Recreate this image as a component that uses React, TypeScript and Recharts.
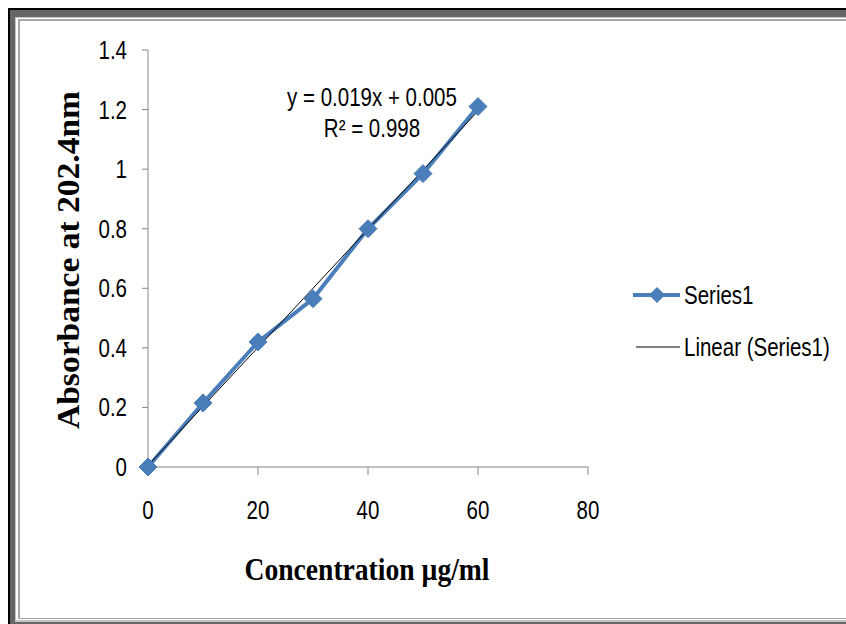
import React from "react";
import { LineChart, Line, XAxis, YAxis } from "recharts";

const concentrations = [0, 10, 20, 30, 40, 50, 60];
const absorbance = [0, 0.215, 0.42, 0.565, 0.8, 0.985, 1.21];
const trendX = [0, 60];
const trendY = [0.005, 1.195];
const xTicks = [0, 20, 40, 60, 80];
const yTicks = [0, 0.2, 0.4, 0.6, 0.8, 1, 1.2, 1.4];
const seriesName = "Series1";
const trendName = "Linear (Series1)";
const equationText = "y = 0.019x + 0.005";
const r2Text = "R² = 0.998";
const xTitle = "Concentration µg/ml";
const yTitle = "Absorbance at 202.4nm";

const seriesData = concentrations.map((x, i) => ({ x, y: absorbance[i] }));
const trendData = trendX.map((x, i) => ({ x, t: trendY[i] }));

const BLUE = "#4a7ebb";
const AXIS = "#868686";
const SANS = "'Liberation Sans', Arial, sans-serif";
const SERIF = "'Liberation Serif', 'Times New Roman', serif";
const SX = 0.82;

const NarrowText = ({ x, y, anchor = "start", size = 25, children }: any) => (
  <text
    transform={`translate(${x},${y}) scale(${SX},1)`}
    x={0}
    y={0}
    textAnchor={anchor}
    fontFamily={SANS}
    fontSize={size}
    fill="#000"
  >
    {children}
  </text>
);

const Diamond = (props: any) => {
  const { cx, cy } = props;
  if (cx == null || cy == null) return null;
  const r = 9;
  return (
    <path
      d={`M${cx},${cy - r}L${cx + r},${cy}L${cx},${cy + r}L${cx - r},${cy}Z`}
      fill={BLUE}
      stroke={BLUE}
      strokeWidth={1}
    />
  );
};

const XTick = (props: any) => {
  const { x, y, payload } = props;
  return (
    <NarrowText x={x} y={y + 23} anchor="middle">
      {String(payload.value)}
    </NarrowText>
  );
};

const YTick = (props: any) => {
  const { x, y, payload } = props;
  const v = Math.round(payload.value * 10) / 10;
  return (
    <NarrowText x={x} y={y + 9} anchor="end">
      {String(v)}
    </NarrowText>
  );
};

const YTitle = () => {
  const cy = 260;
  const cx = 79;
  return (
    <text
      x={cx}
      y={cy}
      transform={`rotate(-90 ${cx} ${cy})`}
      textAnchor="middle"
      fontFamily={SERIF}
      fontWeight="bold"
      fontSize={32}
      fill="#000"
      textLength={338}
      lengthAdjust="spacingAndGlyphs"
    >
      {yTitle}
    </text>
  );
};

const XTitle = () => (
  <text
    x={367}
    y={580}
    textAnchor="middle"
    fontFamily={SERIF}
    fontWeight="bold"
    fontSize={32}
    fill="#000"
    textLength={245}
    lengthAdjust="spacingAndGlyphs"
  >
    {xTitle}
  </text>
);

export default function App() {
  return (
    <div style={{ position: "relative", width: 846, height: 624, overflow: "hidden", background: "#fff" }}>
      <style>{"body{margin:0;overflow:hidden;}"}</style>
      <div style={{ position: "absolute", left: 8, top: 8, width: 900, height: 616, background: "#000" }} />
      <div style={{ position: "absolute", left: 10, top: 10, width: 900, height: 614, background: "#666" }} />
      <div style={{ position: "absolute", left: 15, top: 17, width: 900, height: 605, background: "#c4c4c4" }} />
      <div style={{ position: "absolute", left: 16, top: 18, width: 900, height: 602, background: "#fff" }} />
      <div
        style={{
          position: "absolute",
          left: 18,
          top: 19,
          width: 900,
          height: 600,
          boxSizing: "border-box",
          borderLeft: "2px solid #a6a6a6",
          borderTop: "2px solid #a6a6a6",
          borderBottom: "1px solid #a6a6a6",
          background: "#fff",
        }}
      />
      <div style={{ position: "absolute", left: 0, top: 0 }}>
        <LineChart
          width={846}
          height={624}
          margin={{ top: 50, right: 258, bottom: 127, left: 88 }}
        >
          <XAxis
            dataKey="x"
            type="number"
            domain={[0, 80]}
            ticks={xTicks}
            allowDuplicatedCategory={false}
            height={30}
            stroke={AXIS}
            tickSize={8}
            tickMargin={21}
            tick={<XTick />}
            label={{ content: XTitle }}
          />
          <YAxis
            type="number"
            domain={[0, 1.4]}
            ticks={yTicks}
            width={60}
            stroke={AXIS}
            tickSize={6}
            tickMargin={15}
            tick={<YTick />}
            label={{ content: YTitle }}
          />
          <Line
            data={seriesData}
            dataKey="y"
            name={seriesName}
            stroke={BLUE}
            strokeWidth={4}
            dot={<Diamond />}
            activeDot={false}
            isAnimationActive={false}
          />
          <Line
            data={trendData}
            dataKey="t"
            name={trendName}
            stroke="#000"
            strokeWidth={1}
            dot={false}
            activeDot={false}
            isAnimationActive={false}
          />
        </LineChart>
      </div>
      <svg
        width={846}
        height={624}
        style={{ position: "absolute", left: 0, top: 0, pointerEvents: "none" }}
      >
        <NarrowText x={372} y={106} anchor="middle">{equationText}</NarrowText>
        <NarrowText x={372} y={137} anchor="middle">{r2Text}</NarrowText>
        <line x1={633} y1={295} x2={680} y2={295} stroke={BLUE} strokeWidth={4} />
        <path d="M657,287L665,295L657,303L649,295Z" fill={BLUE} />
        <NarrowText x={684} y={304}>{seriesName}</NarrowText>
        <line x1={636} y1={347} x2={680} y2={347} stroke="#000" strokeWidth={1.2} />
        <NarrowText x={684} y={356}>{trendName}</NarrowText>
      </svg>
    </div>
  );
}
